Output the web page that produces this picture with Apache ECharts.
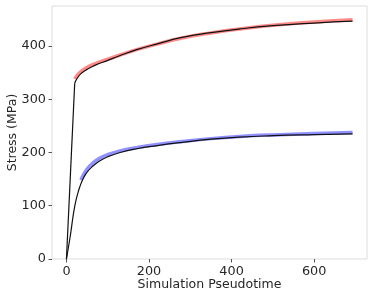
<!DOCTYPE html>
<html>
<head>
<meta charset="utf-8">
<script src="https://cdn.jsdelivr.net/npm/echarts@6/dist/echarts.min.js"></script>
<style>
html,body{margin:0;padding:0;background:#fff;}
#c{width:374px;height:299px;}
</style>
</head>
<body>
<div id="c"></div>
<script>
// Upper curve: simulation (black) and experimental band (red)
var simHighX = [0, 20, 25, 35, 50, 70, 100, 130, 170, 220, 280, 350, 420, 500, 600, 693];
var simHighY = [0, 330, 338, 348, 356, 364, 373, 382, 393, 404, 416, 425, 432, 438, 443, 446.5];
var expHighX = [20, 25, 35, 50, 70, 100, 130, 170, 220, 280, 350, 420, 500, 600, 693];
var expHighY = [338, 344, 352, 360, 367, 375, 383, 393, 403.5, 415, 424.5, 432, 439, 445, 449];
// Lower curve: simulation (black) and experimental band (blue)
var simLowX = [0, 5, 10, 20, 30, 40, 50, 65, 80, 100, 130, 170, 220, 280, 350, 420, 500, 600, 693];
var simLowY = [0, 23, 47, 99, 130, 150, 163, 175, 184, 192, 200, 207, 213, 219, 225, 229, 231.5, 233.5, 235];
var expLowX = [35, 40, 50, 65, 80, 100, 130, 170, 220, 280, 350, 420, 500, 600, 693];
var expLowY = [148, 156, 169, 181, 189, 196, 203, 209, 215, 220.5, 226, 230, 233, 235.5, 237.5];
var xTicks = [0, 200, 400, 600];
var yTicks = [0, 100, 200, 300, 400];

function pairs(xs, ys, from, to){
  var out = [];
  for (var i = (from||0); i < (to==null ? xs.length : to); i++) out.push([xs[i], ys[i]]);
  return out;
}

var chart = echarts.init(document.getElementById('c'), null, {renderer:'canvas'});
var font = 'DejaVu Sans';
var txt = '#262626';
function line(data, color, width, smooth){
  return {type:'line', data:data, showSymbol:false, smooth:smooth, lineStyle:{color:color, width:width}, z:2};
}
chart.setOption({
  animation:false,
  backgroundColor:'#fff',
  grid:{left:52, top:6, right:7, bottom:40, outerBoundsMode:'none', containLabel:false,
        show:true, borderColor:'#dddddd', borderWidth:1, backgroundColor:'transparent'},
  xAxis:{
    type:'value', min:-35, max:728,
    name:'Simulation Pseudotime', nameLocation:'middle', nameGap:19, nameMoveOverlap:false,
    nameTextStyle:{fontFamily:font, fontSize:12.5, color:txt},
    axisLine:{show:false, onZero:false},
    splitLine:{show:false},
    axisTick:{show:true, length:3.5, lineStyle:{color:'#555'}, customValues:xTicks},
    axisLabel:{fontFamily:font, fontSize:12.8, color:txt, margin:6, customValues:xTicks}
  },
  yAxis:{
    type:'value', min:0, max:475,
    name:'Stress (MPa)', nameLocation:'middle', nameGap:33, nameMoveOverlap:false,
    nameTextStyle:{fontFamily:font, fontSize:12.5, color:txt},
    axisLine:{show:false, onZero:false},
    splitLine:{show:false},
    axisTick:{show:true, length:3.5, lineStyle:{color:'#555'}, customValues:yTicks},
    axisLabel:{fontFamily:font, fontSize:12.8, color:txt, margin:6, customValues:yTicks}
  },
  series:[
    line(pairs(expHighX, expHighY), 'rgba(255,60,60,0.6)', 3.5, 0.5),
    line(pairs(expLowX, expLowY), 'rgba(70,70,255,0.6)', 3.5, 0.5),
    line(pairs(simHighX, simHighY, 0, 2), '#111', 1.2, false),
    line(pairs(simHighX, simHighY, 1), '#111', 1.2, 0.5),
    line(pairs(simLowX, simLowY), '#111', 1.2, 0.5)
  ]
});
</script>
</body>
</html>
